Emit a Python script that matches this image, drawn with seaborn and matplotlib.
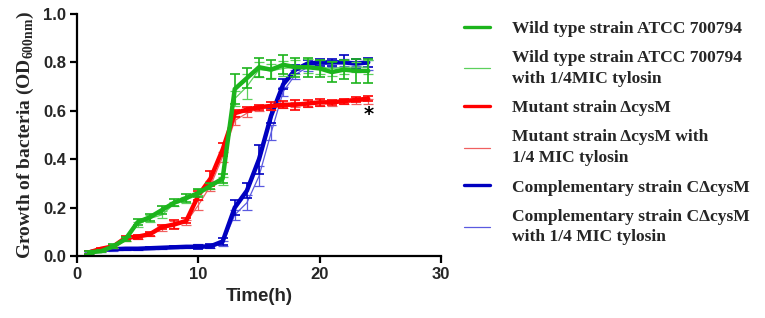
import matplotlib
matplotlib.use("Agg")
import matplotlib.pyplot as plt
import seaborn as sns
import pandas as pd

time_h = list(range(1, 25))

wild = [0.015, 0.02, 0.04, 0.07, 0.14, 0.16, 0.19, 0.22, 0.24, 0.26, 0.29, 0.32,
        0.69, 0.735, 0.78, 0.77, 0.79, 0.78, 0.78, 0.775, 0.76, 0.77, 0.765, 0.765]
wild_sd = [0.005, 0.005, 0.008, 0.01, 0.012, 0.015, 0.015, 0.015, 0.015, 0.015, 0.012, 0.02,
           0.06, 0.04, 0.04, 0.04, 0.04, 0.04, 0.04, 0.035, 0.04, 0.04, 0.05, 0.05]
wild_tyl = [0.015, 0.02, 0.04, 0.07, 0.13, 0.155, 0.17, 0.215, 0.23, 0.265, 0.29, 0.31,
            0.65, 0.70, 0.77, 0.765, 0.775, 0.78, 0.785, 0.78, 0.775, 0.78, 0.78, 0.78]
wild_tyl_sd = [0.005, 0.005, 0.008, 0.01, 0.012, 0.015, 0.015, 0.01, 0.012, 0.012, 0.012, 0.015,
               0.03, 0.05, 0.03, 0.03, 0.03, 0.03, 0.03, 0.03, 0.03, 0.03, 0.02, 0.03]

mutant = [0.015, 0.03, 0.04, 0.075, 0.08, 0.09, 0.12, 0.13, 0.145, 0.25, 0.32, 0.44,
          0.59, 0.605, 0.615, 0.62, 0.625, 0.625, 0.63, 0.635, 0.635, 0.64, 0.645, 0.65]
mutant_sd = [0.005, 0.005, 0.005, 0.008, 0.008, 0.008, 0.01, 0.02, 0.01, 0.02, 0.03, 0.025,
             0.015, 0.01, 0.01, 0.015, 0.015, 0.02, 0.015, 0.015, 0.01, 0.01, 0.01, 0.01]
mutant_tyl = [0.015, 0.025, 0.04, 0.07, 0.08, 0.09, 0.115, 0.13, 0.14, 0.21, 0.29, 0.41,
              0.56, 0.59, 0.61, 0.615, 0.62, 0.625, 0.625, 0.63, 0.63, 0.64, 0.64, 0.64]
mutant_tyl_sd = [0.005, 0.005, 0.005, 0.008, 0.008, 0.008, 0.01, 0.015, 0.01, 0.02, 0.02, 0.02,
                 0.02, 0.015, 0.01, 0.01, 0.01, 0.01, 0.01, 0.01, 0.01, 0.01, 0.01, 0.01]

comp = [0.015, 0.025, 0.028, 0.03, 0.03, 0.032, 0.034, 0.036, 0.038, 0.038, 0.04, 0.06,
        0.2, 0.27, 0.4, 0.58, 0.71, 0.77, 0.795, 0.80, 0.80, 0.80, 0.795, 0.80]
comp_sd = [0.005, 0.005, 0.005, 0.005, 0.005, 0.005, 0.005, 0.005, 0.005, 0.008, 0.008, 0.015,
           0.03, 0.03, 0.06, 0.03, 0.02, 0.02, 0.015, 0.015, 0.015, 0.03, 0.02, 0.02]
comp_tyl = [0.012, 0.02, 0.025, 0.028, 0.03, 0.032, 0.034, 0.036, 0.038, 0.04, 0.042, 0.05,
            0.17, 0.22, 0.33, 0.51, 0.68, 0.75, 0.78, 0.79, 0.795, 0.80, 0.80, 0.79]
comp_tyl_sd = [0.005, 0.005, 0.005, 0.005, 0.005, 0.005, 0.005, 0.005, 0.005, 0.008, 0.008, 0.01,
               0.02, 0.03, 0.04, 0.03, 0.02, 0.02, 0.015, 0.015, 0.015, 0.015, 0.015, 0.02]

labels = ["Wild type strain ATCC 700794",
          "Wild type strain ATCC 700794\nwith 1/4MIC tylosin",
          "Mutant strain \u0394cysM",
          "Mutant strain \u0394cysM with\n1/4 MIC tylosin",
          "Complementary strain C\u0394cysM",
          "Complementary strain C\u0394cysM\nwith 1/4 MIC tylosin"]

sns.set_style("ticks")
plt.rcParams["mathtext.fontset"] = "custom"
plt.rcParams["mathtext.bf"] = "Liberation Serif:bold"

fig = plt.figure(figsize=(7.65, 3.18), dpi=100)
ax = fig.add_axes([0.1007, 0.195, 0.4758, 0.761])

# (values, sd, colour, line width, label index) drawn back to front
series = [
    (comp_tyl, comp_tyl_sd, "#5a5ae0", 0.9, 5),
    (comp, comp_sd, "#0000c0", 3.2, 4),
    (mutant_tyl, mutant_tyl_sd, "#f06060", 0.9, 3),
    (mutant, mutant_sd, "#ff0000", 3.2, 2),
    (wild_tyl, wild_tyl_sd, "#5cd05c", 0.9, 1),
    (wild, wild_sd, "#1cb41c", 3.2, 0),
]

handles = {}
for vals, sd, col, lw, idx in series:
    df = pd.DataFrame({"t": time_h, "od": vals})
    sns.lineplot(data=df, x="t", y="od", color=col, linewidth=lw, ax=ax)
    ax.errorbar(time_h, vals, yerr=sd, fmt="none", ecolor=col,
                elinewidth=1.2 if lw > 1 else 0.9, capsize=3.5, capthick=1.2 if lw > 1 else 0.9)
    handles[idx] = plt.Line2D([], [], color=col, linewidth=2.4 if lw > 1 else 0.9)

ax.text(24, 0.585, "*", fontsize=14, fontweight="bold", ha="center", va="center", color="black")

ax.set_xlim(0, 30)
ax.set_ylim(0, 1.0)
ax.set_xticks([0, 10, 20, 30])
ax.set_yticks([0.0, 0.2, 0.4, 0.6, 0.8, 1.0])
ax.set_yticklabels(["0.0", "0.2", "0.4", "0.6", "0.8", "1.0"])
for lab in ax.get_xticklabels() + ax.get_yticklabels():
    lab.set_fontfamily("Liberation Sans")
    lab.set_fontweight("bold")
    lab.set_fontsize(12)
ax.tick_params(width=1.6, length=5, color="black", pad=3)
for side in ["left", "bottom"]:
    ax.spines[side].set_linewidth(1.6)
    ax.spines[side].set_color("black")
sns.despine(ax=ax)

ax.set_xlabel("Time(h)", fontsize=13.5, fontweight="bold", family="Liberation Sans", labelpad=4)
ax.set_ylabel("Growth of bacteria (OD$_{\\mathbf{600nm}}$)", fontsize=14, fontweight="bold",
              family="Liberation Serif", labelpad=5)

leg = fig.legend([handles[i] for i in range(6)], labels, loc="upper left",
                 bbox_to_anchor=(0.606, 0.935), frameon=False, borderpad=0, borderaxespad=0,
                 handlelength=1.5, handletextpad=1.25, labelspacing=0.75,
                 prop={"family": "Liberation Serif", "weight": "bold", "size": 12.6})
for txt in leg.get_texts():
    txt.set_linespacing(1.4)

fig.savefig("out.png", dpi=100)
